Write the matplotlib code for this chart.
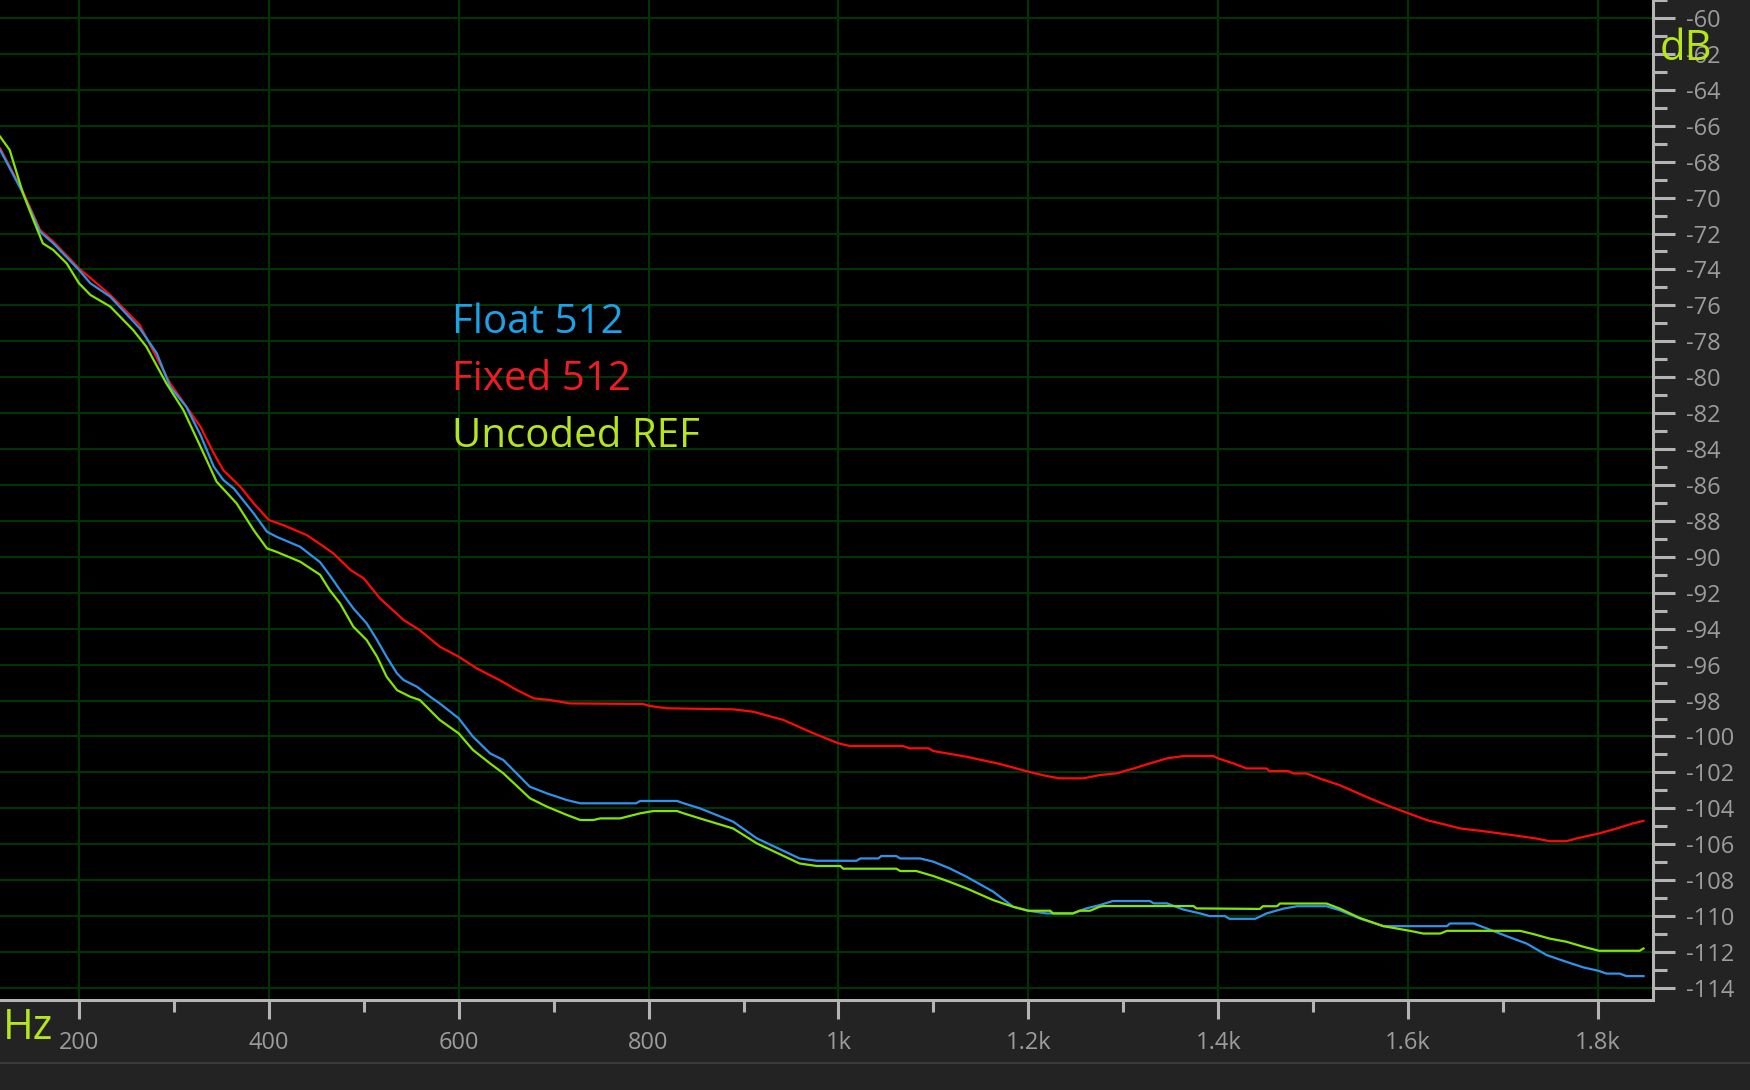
import matplotlib
matplotlib.use("Agg")
import matplotlib.pyplot as plt
from matplotlib.lines import Line2D
from matplotlib.ticker import MultipleLocator, FuncFormatter

# spectrum readings (Hz, dB)
float_hz = [117, 141, 159, 173, 200, 212, 233, 264, 282, 296,
            313, 328, 342, 352, 363, 384, 398, 408, 433, 454,
            464, 475, 489, 503, 514, 524, 535, 542, 556, 570,
            580, 600, 615, 633,
            647, 675, 693, 714, 728, 787, 791, 830, 837, 854,
            889, 914, 959, 977, 1019, 1023, 1042, 1045, 1061, 1065,
            1086, 1100, 1117, 1135, 1163, 1184, 1200, 1219, 1247, 1261,
            1275, 1289, 1328, 1332, 1346, 1363, 1381, 1391, 1407, 1412,
            1439, 1451, 1469, 1483, 1514, 1528, 1549, 1574, 1641, 1644,
            1669, 1683, 1704, 1725, 1746, 1767, 1785, 1801, 1809, 1823,
            1830, 1848]
float_db = [-67.35, -69.76, -71.90, -72.55, -74.03, -74.77, -75.52, -77.28, -78.67, -80.53,
            -81.64, -83.22, -84.98, -85.72, -86.19, -87.58, -88.60, -88.88, -89.44, -90.30,
            -91.01, -91.85, -92.87, -93.70, -94.63, -95.56, -96.49, -96.86, -97.23, -97.79,
            -98.16, -98.99, -100.01, -100.94,
            -101.31, -102.80, -103.17, -103.54, -103.72, -103.72, -103.59, -103.59, -103.72, -104.00,
            -104.74, -105.67, -106.79, -106.92, -106.92, -106.79, -106.79, -106.66, -106.66, -106.79,
            -106.79, -106.97, -107.34, -107.81, -108.64, -109.48, -109.70, -109.85, -109.85, -109.57,
            -109.39, -109.16, -109.16, -109.29, -109.29, -109.63, -109.85, -110.00, -110.00, -110.15,
            -110.15, -109.85, -109.58, -109.45, -109.45, -109.67, -110.13, -110.56, -110.56, -110.41,
            -110.41, -110.69, -111.12, -111.53, -112.17, -112.55, -112.86, -113.05, -113.20, -113.20,
            -113.34, -113.34]

fixed_hz = [117, 141, 159, 173, 200, 233, 264, 296, 328, 342,
            352, 370, 384, 400, 415, 440, 454, 468, 486, 500,
            517, 542, 559, 580, 600, 619, 643, 661, 679, 696,
            717, 794, 801, 819, 889, 910, 942, 974, 1000, 1012,
            1068, 1075, 1095, 1100, 1135, 1170, 1200, 1219, 1233, 1258,
            1275, 1293, 1311, 1328, 1346, 1363, 1395, 1400, 1416, 1430,
            1451, 1454, 1474, 1479, 1493, 1507, 1528, 1556, 1577, 1601,
            1620, 1634, 1655, 1679, 1697, 1718, 1735, 1749, 1767, 1777,
            1801, 1820, 1837, 1848]
fixed_db = [-67.26, -69.67, -71.80, -72.45, -73.94, -75.42, -77.09, -80.34, -82.76, -84.24,
            -85.17, -86.10, -87.02, -87.95, -88.23, -88.79, -89.29, -89.81, -90.73, -91.20,
            -92.31, -93.52, -94.08, -95.00, -95.56, -96.21, -96.86, -97.41, -97.88, -97.97,
            -98.16, -98.19, -98.30, -98.43, -98.49, -98.62, -99.08, -99.83, -100.38, -100.53,
            -100.53, -100.66, -100.66, -100.81, -101.13, -101.53, -101.96, -102.20, -102.33, -102.33,
            -102.15, -102.05, -101.78, -101.50, -101.22, -101.09, -101.09, -101.22, -101.50, -101.78,
            -101.78, -101.93, -101.93, -102.06, -102.06, -102.34, -102.71, -103.36, -103.82, -104.29,
            -104.66, -104.84, -105.12, -105.27, -105.40, -105.55, -105.68, -105.83, -105.83, -105.68,
            -105.40, -105.12, -104.84, -104.70]

ref_hz = [117, 127, 141, 152, 162, 173, 187, 200, 212, 233,
          257, 271, 292, 310, 328, 345, 366, 384, 398, 408,
          433, 454, 464, 475, 489, 503, 514, 524, 535, 549,
          559, 580, 600,
          615, 633, 647, 675, 693, 714, 728, 742, 749, 770,
          791, 805, 830, 837, 854, 889, 914, 959, 977, 1002,
          1005, 1061, 1065, 1082, 1100, 1117, 1135, 1163, 1184, 1200,
          1223, 1226, 1247, 1254, 1265, 1275, 1279, 1374, 1377, 1444,
          1447, 1462, 1465, 1514, 1528, 1549, 1574, 1602, 1616, 1634,
          1641, 1718, 1732, 1749, 1767, 1785, 1801, 1844, 1848]
ref_db = [-66.61, -67.35, -69.76, -71.25, -72.55, -72.92, -73.66, -74.77, -75.42, -76.07,
          -77.37, -78.30, -80.34, -81.83, -83.87, -85.82, -87.02, -88.51, -89.53, -89.72,
          -90.27, -91.00, -91.85, -92.59, -93.89, -94.63, -95.56, -96.67, -97.42, -97.79,
          -97.97, -99.08, -99.83,
          -100.75, -101.50, -102.05, -103.44, -103.91, -104.37, -104.65, -104.65, -104.56, -104.56,
          -104.28, -104.15, -104.15, -104.28, -104.56, -105.12, -105.95, -107.07, -107.21, -107.21,
          -107.36, -107.36, -107.49, -107.49, -107.77, -108.09, -108.46, -109.11, -109.48, -109.70,
          -109.70, -109.85, -109.85, -109.70, -109.70, -109.48, -109.44, -109.44, -109.57, -109.60,
          -109.45, -109.45, -109.30, -109.30, -109.58, -110.10, -110.56, -110.82, -110.97, -110.97,
          -110.82, -110.82, -111.00, -111.25, -111.43, -111.71, -111.93, -111.93, -111.80]

series_names = ["Float 512", "Fixed 512", "Uncoded REF"]

W, H = 1750, 1090
bg = "#232323"
lime = "#b5e61d"
tick_col = "#b4b4b4"
label_col = "#9c9c9c"

plt.rcParams["font.family"] = ["Open Sans", "DejaVu Sans"]

fig = plt.figure(figsize=(W / 100, H / 100), dpi=100, facecolor=bg)
ax = fig.add_axes([0, 90 / H, 1653 / W, 1000 / H])
ax.set_facecolor("black")

ax.plot(fixed_hz, fixed_db, color="#ff0a0a", lw=1.6, zorder=3)
ax.plot(float_hz, float_db, color="#2f93ec", lw=1.6, zorder=4)
ax.plot(ref_hz, ref_db, color="#84e600", lw=1.6, zorder=5)

ax.set_xlim(116.8, 1858)
ax.set_ylim(-114.67, -59.0)

ax.xaxis.set_major_locator(MultipleLocator(200))
ax.xaxis.set_minor_locator(MultipleLocator(100))
ax.yaxis.set_major_locator(MultipleLocator(2))
ax.yaxis.set_minor_locator(MultipleLocator(1))

def hz_fmt(v, pos):
    if v >= 1000:
        return f"{v / 1000:g}k"
    return f"{v:g}"

ax.xaxis.set_major_formatter(FuncFormatter(hz_fmt))
ax.yaxis.set_major_formatter(FuncFormatter(lambda v, pos: f"{v:g}".replace("\u2212", "-")))

ax.grid(which="major", color="#003400", lw=1.5, zorder=1)
ax.set_axisbelow(True)

for side in ["left", "top"]:
    ax.spines[side].set_visible(False)
for side in ["right", "bottom"]:
    ax.spines[side].set_color(tick_col)
    ax.spines[side].set_linewidth(2.2)

ax.yaxis.tick_right()
ax.tick_params(axis="y", which="major", length=15.8, width=2.2, color=tick_col,
               labelcolor=label_col, labelsize=17, pad=8)
ax.tick_params(axis="y", which="minor", length=10, width=2.2, color=tick_col)
ax.tick_params(axis="x", which="major", length=13.7, width=2.2, color=tick_col,
               labelcolor=label_col, labelsize=17, pad=8.4)
ax.tick_params(axis="x", which="minor", length=8.6, width=2.2, color=tick_col)

# legend as coloured text
legend_cols = ["#1ba3ea", "#ee1c24", lime]
for i, (name, c) in enumerate(zip(series_names, legend_cols)):
    fig.text(452 / W, 1 - (333 + 57 * i) / H, name, color=c, fontsize=29, va="baseline")

# unit labels (dB sits over the -62 label, as in the original)
fig.text(1660 / W, 1 - 60 / H, "dB", color=lime, fontsize=30, va="baseline")
fig.text(3 / W, 1 - 1039 / H, "Hz", color=lime, fontsize=30, va="baseline")

fig.add_artist(Line2D([0, 1], [1 - 1063 / H] * 2, color="#3a3a3a", lw=1.5))

fig.savefig("out.png", dpi=100, facecolor=bg)
